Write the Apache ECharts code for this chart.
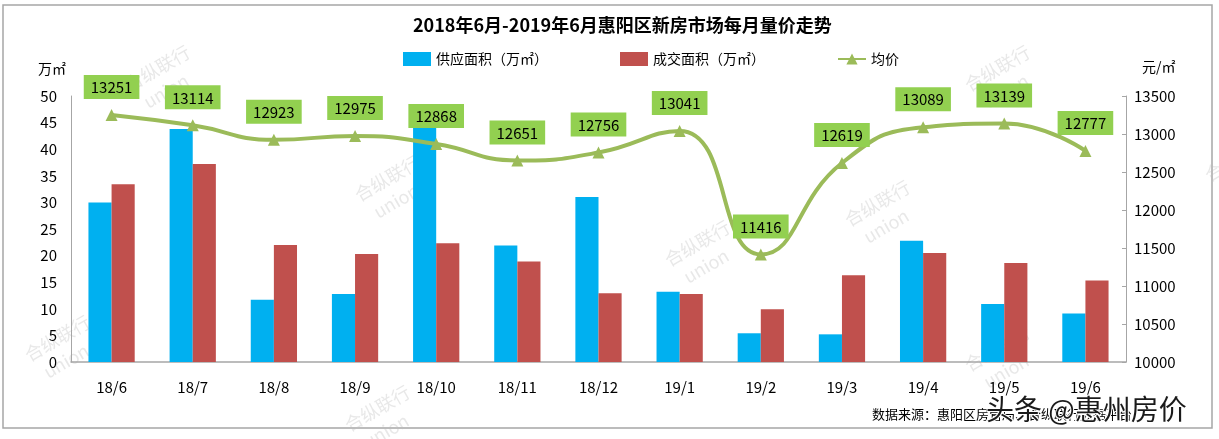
<!DOCTYPE html>
<html><head><meta charset="utf-8">
<script src="https://cdn.jsdelivr.net/npm/echarts@6/dist/echarts.min.js"></script>
<style>html,body{margin:0;padding:0;background:#fff}#c{width:1219px;height:439px}</style>
</head><body><div id="c"></div>
<script>
const categories = ['18/6','18/7','18/8','18/9','18/10','18/11','18/12','19/1','19/2','19/3','19/4','19/5','19/6'];
const supply = [30.0,43.8,11.7,12.8,46.0,21.9,31.0,13.2,5.4,5.2,22.8,10.9,9.1];
const deal = [33.4,37.2,22.0,20.3,22.3,18.9,12.9,12.8,9.9,16.3,20.5,18.6,15.3];
const price = [13251,13114,12923,12975,12868,12651,12756,13041,11416,12619,13089,13139,12777];
const leftTicks = {min:0,max:50,interval:5};
const rightTicks = {min:10000,max:13500,interval:500};

const F = '"Noto Sans CJK SC", "Noto Sans", sans-serif';
const chart = echarts.init(document.getElementById('c'));
const wm = [];
[[120,40],[960,40],[840,175],[350,150],[660,215],[20,310],[960,320],[340,380],[1200,130]].forEach(p=>{
  wm.push({type:'text',left:p[0],top:p[1],rotation:Math.PI/6,silent:true,z:0,
    style:{text:'合纵联行\n  union',fill:'rgba(190,190,190,0.35)',font:'18px '+F,lineHeight:24}});
});
chart.setOption({
  animation:false,
  textStyle:{fontFamily:F},
  title:{text:'2018年6月-2019年6月惠阳区新房市场每月量价走势',left:408,top:11,
    textStyle:{fontSize:18,fontWeight:'bold',color:'#000',fontFamily:F}},
  legend:{top:47,left:398,itemWidth:28,itemHeight:14,itemGap:72,
    textStyle:{fontSize:14,color:'#000',fontFamily:F},
    data:[{name:'供应面积（万㎡）',icon:'rect'},{name:'成交面积（万㎡）',icon:'rect'},{name:'均价'}]},
  graphic:[
    {type:'rect',shape:{x:3,y:5,width:1209,height:423},style:{fill:'none',stroke:'#a6a6a6',lineWidth:1.5},silent:true},
    {type:'text',left:38,top:62,style:{text:'万㎡',font:'14px '+F,fill:'#000'}},
    {type:'text',left:1142,top:60,style:{text:'元/㎡',font:'14px '+F,fill:'#000'}},
    {type:'text',left:872,top:408,style:{text:'数据来源：惠阳区房管局、合纵联行数据平台',font:'13px '+F,fill:'#000'}},
    {type:'text',left:985,top:394,z:10,style:{text:'头条 @惠州房价',font:'28px '+F,fill:'#1a1a1a',stroke:'#fff',lineWidth:2}},
    ...wm
  ],
  grid:{left:71,right:93,top:96,bottom:77},
  xAxis:{type:'category',data:categories,
    axisLine:{lineStyle:{color:'#a6a6a6',width:1.5}},axisTick:{show:false},
    axisLabel:{fontSize:15,color:'#000',margin:18,fontFamily:F}},
  yAxis:[
    {type:'value',min:leftTicks.min,max:leftTicks.max,interval:leftTicks.interval,
     axisLine:{show:true,lineStyle:{color:'#a6a6a6'}},axisTick:{show:false},splitLine:{show:false},
     axisLabel:{fontSize:15,color:'#000',margin:14,fontFamily:F}},
    {type:'value',min:rightTicks.min,max:rightTicks.max,interval:rightTicks.interval,position:'right',
     axisLine:{show:true,lineStyle:{color:'#a6a6a6'}},axisTick:{show:true,inside:true,length:4,lineStyle:{color:'#a6a6a6'}},splitLine:{show:false},
     axisLabel:{fontSize:15,color:'#000',margin:8,fontFamily:F,formatter:v=>String(v)}}
  ],
  series:[
    {name:'供应面积（万㎡）',type:'bar',data:supply,barGap:'0%',barCategoryGap:'43%',itemStyle:{color:'#00b0f0'},z:2},
    {name:'成交面积（万㎡）',type:'bar',data:deal,itemStyle:{color:'#c0504d'},z:2},
    {name:'均价',type:'line',yAxisIndex:1,data:price,smooth:0.5,symbol:'triangle',symbolSize:12,
     lineStyle:{color:'#9bbb59',width:4},itemStyle:{color:'#9bbb59'},z:5,
     label:{show:true,position:'top',distance:10,backgroundColor:'#92d050',padding:[5,7,4,7],
       color:'#000',fontSize:15,fontFamily:F}}
  ]
});
</script></body></html>
